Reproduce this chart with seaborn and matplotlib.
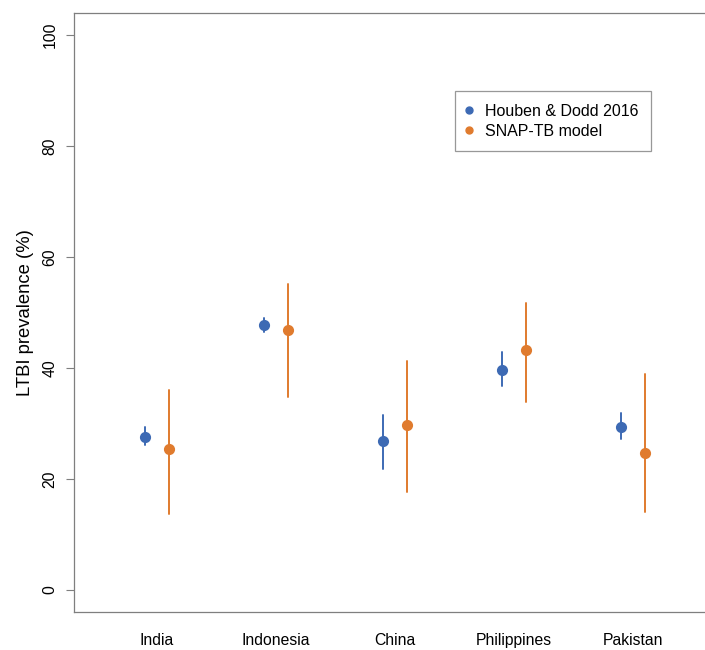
import numpy as np
import pandas as pd
import matplotlib
matplotlib.use("Agg")
import matplotlib.pyplot as plt
from matplotlib.lines import Line2D
import seaborn as sns

# ---- data ----
countries = ["India", "Indonesia", "China", "Philippines", "Pakistan"]
sources = ["Houben & Dodd 2016", "SNAP-TB model"]
houben_est = [27.5, 47.8, 26.8, 39.7, 29.4]
houben_lo = [26.1, 46.5, 21.8, 36.7, 27.2]
houben_hi = [29.3, 49.0, 31.5, 42.9, 31.9]
snap_est = [25.3, 46.8, 29.7, 43.2, 24.6]
snap_lo = [13.6, 34.7, 17.7, 33.9, 14.0]
snap_hi = [36.0, 55.2, 41.2, 51.7, 39.0]
yticks = [0, 20, 40, 60, 80, 100]

blue = "#3D6AB4"
orange = "#E07B2E"
grey = "#7f7f7f"

rows = []
for src, est, lo, hi in [(sources[0], houben_est, houben_lo, houben_hi),
                         (sources[1], snap_est, snap_lo, snap_hi)]:
    for c, e, l, h in zip(countries, est, lo, hi):
        for v in (l, e, h):
            rows.append({"country": c, "source": src, "value": v})
df = pd.DataFrame(rows)

sns.set_theme(style="white")
plt.rcParams["font.family"] = ["Liberation Sans", "DejaVu Sans"]
plt.rcParams["text.color"] = "black"
plt.rcParams["axes.labelcolor"] = "black"

fig = plt.figure(figsize=(7.05, 6.5), dpi=100)
W, H = 705, 650
ax_left, ax_right, ax_bottom, ax_top = 74, 720, 612, 13
ax = fig.add_axes([ax_left / W, (H - ax_bottom) / H,
                   (ax_right - ax_left) / W, (ax_bottom - ax_top) / H])

sns.pointplot(data=df, x="country", y="value", hue="source",
              order=countries, hue_order=sources,
              palette=[blue, orange], estimator="median",
              errorbar=lambda v: (v.min(), v.max()),
              dodge=0.2, linestyle="none", markers="o",
              markersize=6, err_kws={"linewidth": 1.4},
              legend=False, ax=ax)

spacing = 119.1
x0 = -(157 - ax_left) / spacing
ax.set_xlim(x0, x0 + (ax_right - ax_left) / spacing)
ax.set_ylim(-4, 104)

ax.set_yticks(yticks)
ax.set_yticklabels([str(t) for t in yticks], rotation=90, va="center")
ax.tick_params(axis="y", length=6, width=0.8, color=grey, pad=6,
               labelsize=11.3, left=True, labelcolor="black")
ax.tick_params(axis="x", length=0, pad=15, labelsize=11.3, labelcolor="black")
ax.set_xlabel("")
ax.set_ylabel("LTBI prevalence (%)", fontsize=13.3, labelpad=6, color="black")

for side in ["left", "top", "bottom"]:
    ax.spines[side].set_visible(True)
    ax.spines[side].set_color(grey)
    ax.spines[side].set_linewidth(0.9)
ax.spines["right"].set_visible(False)

handles = [Line2D([], [], marker="o", linestyle="none", color=blue, markersize=5),
           Line2D([], [], marker="o", linestyle="none", color=orange, markersize=5)]
ax_w = ax_right - ax_left
ax_h = ax_bottom - ax_top
leg = ax.legend(handles, sources, loc="upper left",
                bbox_to_anchor=((455 - ax_left) / ax_w, (ax_bottom - 91) / ax_h),
                frameon=True, fancybox=False, fontsize=11.5,
                handlelength=0.2, handletextpad=0.85, borderpad=0.8,
                labelspacing=0.3, borderaxespad=0)
leg.get_frame().set_edgecolor(grey)
leg.get_frame().set_linewidth(0.9)
for t in leg.get_texts():
    t.set_color("black")

fig.savefig("out.png", dpi=100)
